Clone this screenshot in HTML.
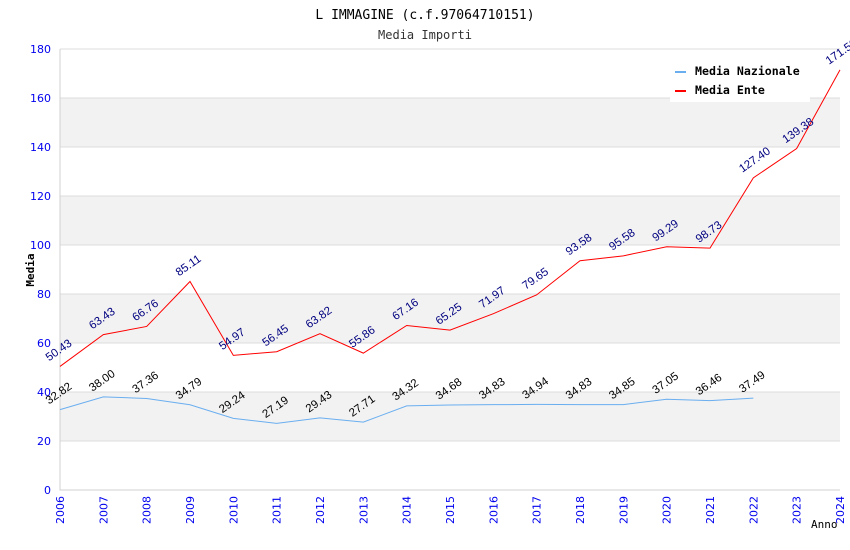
<!DOCTYPE html>
<html><head><meta charset="utf-8"><style>
body{margin:0;background:#fff;}
svg{display:block;}
</style></head><body>
<svg id="chart" width="850" height="550" xmlns="http://www.w3.org/2000/svg">
<text x="425" y="19" text-anchor="middle" font-family="DejaVu Sans Mono, Liberation Mono, monospace" font-size="13" fill="#000">L IMMAGINE (c.f.97064710151)</text>
<text x="425" y="39" text-anchor="middle" font-family="DejaVu Sans Mono, Liberation Mono, monospace" font-size="12" fill="#333">Media Importi</text>
<g id="grid"></g>
<g id="axes"></g>
<g id="series"></g>
<text x="34" y="270" transform="rotate(-90 34 270)" text-anchor="middle" font-family="DejaVu Sans Mono, monospace" font-size="11" font-weight="bold" fill="#000">Media</text>
<text x="811" y="528" font-family="DejaVu Sans Mono, monospace" font-size="11" fill="#000">Anno</text>
<g>
<rect x="670" y="56" width="140" height="46" fill="#fff"/>
<rect x="675" y="71" width="11" height="2" fill="#6aaef0"/>
<text x="695" y="75" font-family="DejaVu Sans Mono, monospace" font-size="11.6" font-weight="bold" fill="#000">Media Nazionale</text>
<rect x="675" y="90" width="11" height="2" fill="#ff0000"/>
<text x="695" y="94" font-family="DejaVu Sans Mono, monospace" font-size="11.6" font-weight="bold" fill="#000">Media Ente</text>
</g>
</svg>
<script>
const years = [2006,2007,2008,2009,2010,2011,2012,2013,2014,2015,2016,2017,2018,2019,2020,2021,2022,2023,2024];
const nazionale = [32.82,38.00,37.36,34.79,29.24,27.19,29.43,27.71,34.32,34.68,34.83,34.94,34.83,34.85,37.05,36.46,37.49];
const ente = [50.43,63.43,66.76,85.11,54.97,56.45,63.82,55.86,67.16,65.25,71.97,79.65,93.58,95.58,99.29,98.73,127.40,139.38,171.50];
const yTicks = [0,20,40,60,80,100,120,140,160,180];

const NS='http://www.w3.org/2000/svg';
const L=60,R=840,T=49,B=490,yMax=180;
function xPos(i){return L+(R-L)*i/(years.length-1);}
function yPos(v){return B-(B-T)*v/yMax;}
function mk(tag,attrs,parent){const e=document.createElementNS(NS,tag);for(const k in attrs)e.setAttribute(k,attrs[k]);parent.appendChild(e);return e;}
const grid=document.getElementById('grid'),axes=document.getElementById('axes'),series=document.getElementById('series');
for(let i=0;i<yTicks.length-1;i++){
  if(i%2===1){
    const r=mk('rect',{x:L,y:yPos(yTicks[i+1]),width:R-L,height:yPos(yTicks[i])-yPos(yTicks[i+1]),fill:'#f2f2f2'},grid);
    
    
  }
}
yTicks.forEach(v=>{
  const l=mk('line',{x1:L,x2:R,y1:yPos(v),y2:yPos(v),stroke:'#dcdcdc','stroke-width':1},grid);
  
  
  const t=mk('text',{x:L-9,y:yPos(v)+4,'text-anchor':'end','font-family':'DejaVu Sans, sans-serif','font-size':11,fill:'#0000ee'},axes);
  t.textContent=v;
  
  
});
const ax=mk('path',{d:`M${L},${T}V${B}H${R}`,fill:'none',stroke:'#d0d0d0'},axes);


years.forEach((y,i)=>{
  const x=xPos(i);
  const t=mk('text',{x:x+4,y:B+6,transform:`rotate(-90 ${x+4} ${B+6})`,'text-anchor':'end','font-family':'DejaVu Sans, sans-serif','font-size':11,fill:'#0000ee'},axes);
  t.textContent=y;
  
  
});
function drawSeries(vals,color,labelColor,name){
  const pts=vals.map((v,i)=>xPos(i)+','+yPos(v)).join(' ');
  const pl=mk('polyline',{points:pts,fill:'none',stroke:color,'stroke-width':1},series);
  
  
  vals.forEach((v,i)=>{
    const x=xPos(i)-11,y=yPos(v)-5;
    const t=mk('text',{x:x,y:y,transform:`rotate(-35 ${x} ${y})`,'font-family':'Liberation Sans, sans-serif','font-size':11.5,fill:labelColor},series);
    t.textContent=v.toFixed(2);
    
    
  });
}
drawSeries(nazionale,'#6aaef0','#000','nazionale');
drawSeries(ente,'#ff0000','#000080','ente');
</script>
</body></html>
